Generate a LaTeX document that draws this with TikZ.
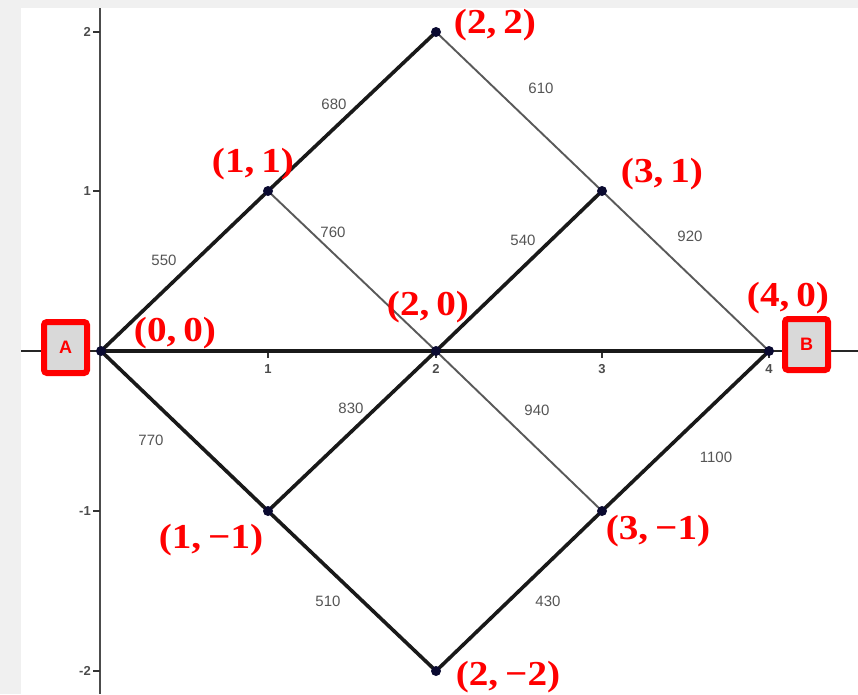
\documentclass[tikz,border=0pt]{standalone}
\usepackage{fontspec}
\newfontfamily\axfont{Liberation Sans}
\newfontfamily\labfont[FakeStretch=1.12]{Liberation Serif}
\definecolor{bgray}{HTML}{F0F0F0}
\definecolor{wgray}{HTML}{555555}
\definecolor{dotc}{HTML}{0A0A30}
\definecolor{boxfill}{HTML}{D9D9D9}
\newcommand{\cs}{\hspace{0.2em}}
\begin{document}
\begin{tikzpicture}[x=1pt,y=-1pt,
  thickedge/.style={line width=3.6pt,black!90,line cap=round},
  thinedge/.style={line width=1.9pt,black!65},
  vdot/.style={circle,fill=dotc,minimum size=10pt,inner sep=0pt},
  coord/.style={text=red,font=\labfont\bfseries\fontsize{35}{38}\selectfont,inner sep=0pt},
  wlab/.style={text=wgray,font=\axfont\fontsize{15}{17}\selectfont,inner sep=0pt},
  ticklab/.style={text=black!70,font=\axfont\bfseries\fontsize{13}{15}\selectfont,inner sep=0pt},
  endbox/.style={draw=red,line width=6pt,fill=boxfill,rounded corners=3pt,text=red,font=\axfont\bfseries\fontsize{18}{20}\selectfont,minimum width=43pt,minimum height=51pt,inner sep=0pt}]
\useasboundingbox (0,0) rectangle (858,694);
\fill[bgray] (0,0) rectangle (858,8);
\fill[bgray] (0,0) rectangle (21,694);
% axes
\draw[line width=2.4pt,black!70] (100,8) -- (100,694);
\draw[line width=2.8pt,black!85] (21,351) -- (858,351);
% ticks
\foreach \x/\l in {268/1,436/2,602/3,769/4}{
  \draw[line width=1.3pt,black!80] (\x,351) -- (\x,358);
  \node[ticklab] at (\x,369) {\l};}
\foreach \y/\l in {32/2,191/1,511/-1,671/-2}{
  \draw[line width=1.3pt,black!80] (93,\y) -- (100,\y);
  \node[ticklab,anchor=east] at (91,\y) {\l};}
% vertices
\coordinate (p00) at (101,351);
\coordinate (p11) at (268,191);
\coordinate (p22) at (436,32);
\coordinate (p31) at (602,191);
\coordinate (p40) at (769,351);
\coordinate (p20) at (436,351);
\coordinate (p1m) at (268,511);
\coordinate (p3m) at (602,511);
\coordinate (p2m) at (436,671);
% thin edges
\draw[thinedge] (p22) -- (p31) -- (p40);
\draw[thinedge] (p11) -- (p20) -- (p3m);
% thick edges
\draw[thickedge] (p00) -- (p11) -- (p22);
\draw[thickedge] (p00) -- (p40);
\draw[thickedge] (p00) -- (p1m) -- (p2m) -- (p3m) -- (p40);
\draw[thickedge] (p1m) -- (p20) -- (p31);
% dots
\foreach \p in {p00,p11,p22,p31,p40,p20,p1m,p3m,p2m}
  \node[vdot] at (\p) {};
% weights
\node[wlab] (w680) at (334,104) {680};
\node[wlab] (w610) at (541,88) {610};
\node[wlab] (w550) at (164,260) {550};
\node[wlab] (w760) at (333,232) {760};
\node[wlab] (w540) at (523,240) {540};
\node[wlab] (w920) at (690,236) {920};
\node[wlab] (w830) at (351,408) {830};
\node[wlab] (w940) at (537,410) {940};
\node[wlab] (w770) at (151,440) {770};
\node[wlab] (w1100) at (716,457) {1100};
\node[wlab] (w510) at (328,601) {510};
\node[wlab] (w430) at (548,601) {430};
% coordinate labels
\node[coord] (l22) at (495,25) {(2,\cs2)};
\node[coord] (l11) at (253,164) {(1,\cs1)};
\node[coord] (l31) at (662,174) {(3,\cs1)};
\node[coord] (l00) at (175,333) {(0,\cs0)};
\node[coord] (l20) at (428,307) {(2,\cs0)};
\node[coord] (l40) at (788,298) {(4,\cs0)};
\node[coord] (l1m) at (211,540) {(1,\cs−1)};
\node[coord] (l3m) at (658,531) {(3,\cs−1)};
\node[coord] (l2m) at (508,677) {(2,\cs−2)};
% end boxes
\node[endbox] (A) at (65.5,347.5) {A};
\node[endbox] (B) at (806.5,344.5) {B};
\end{tikzpicture}
\end{document}
